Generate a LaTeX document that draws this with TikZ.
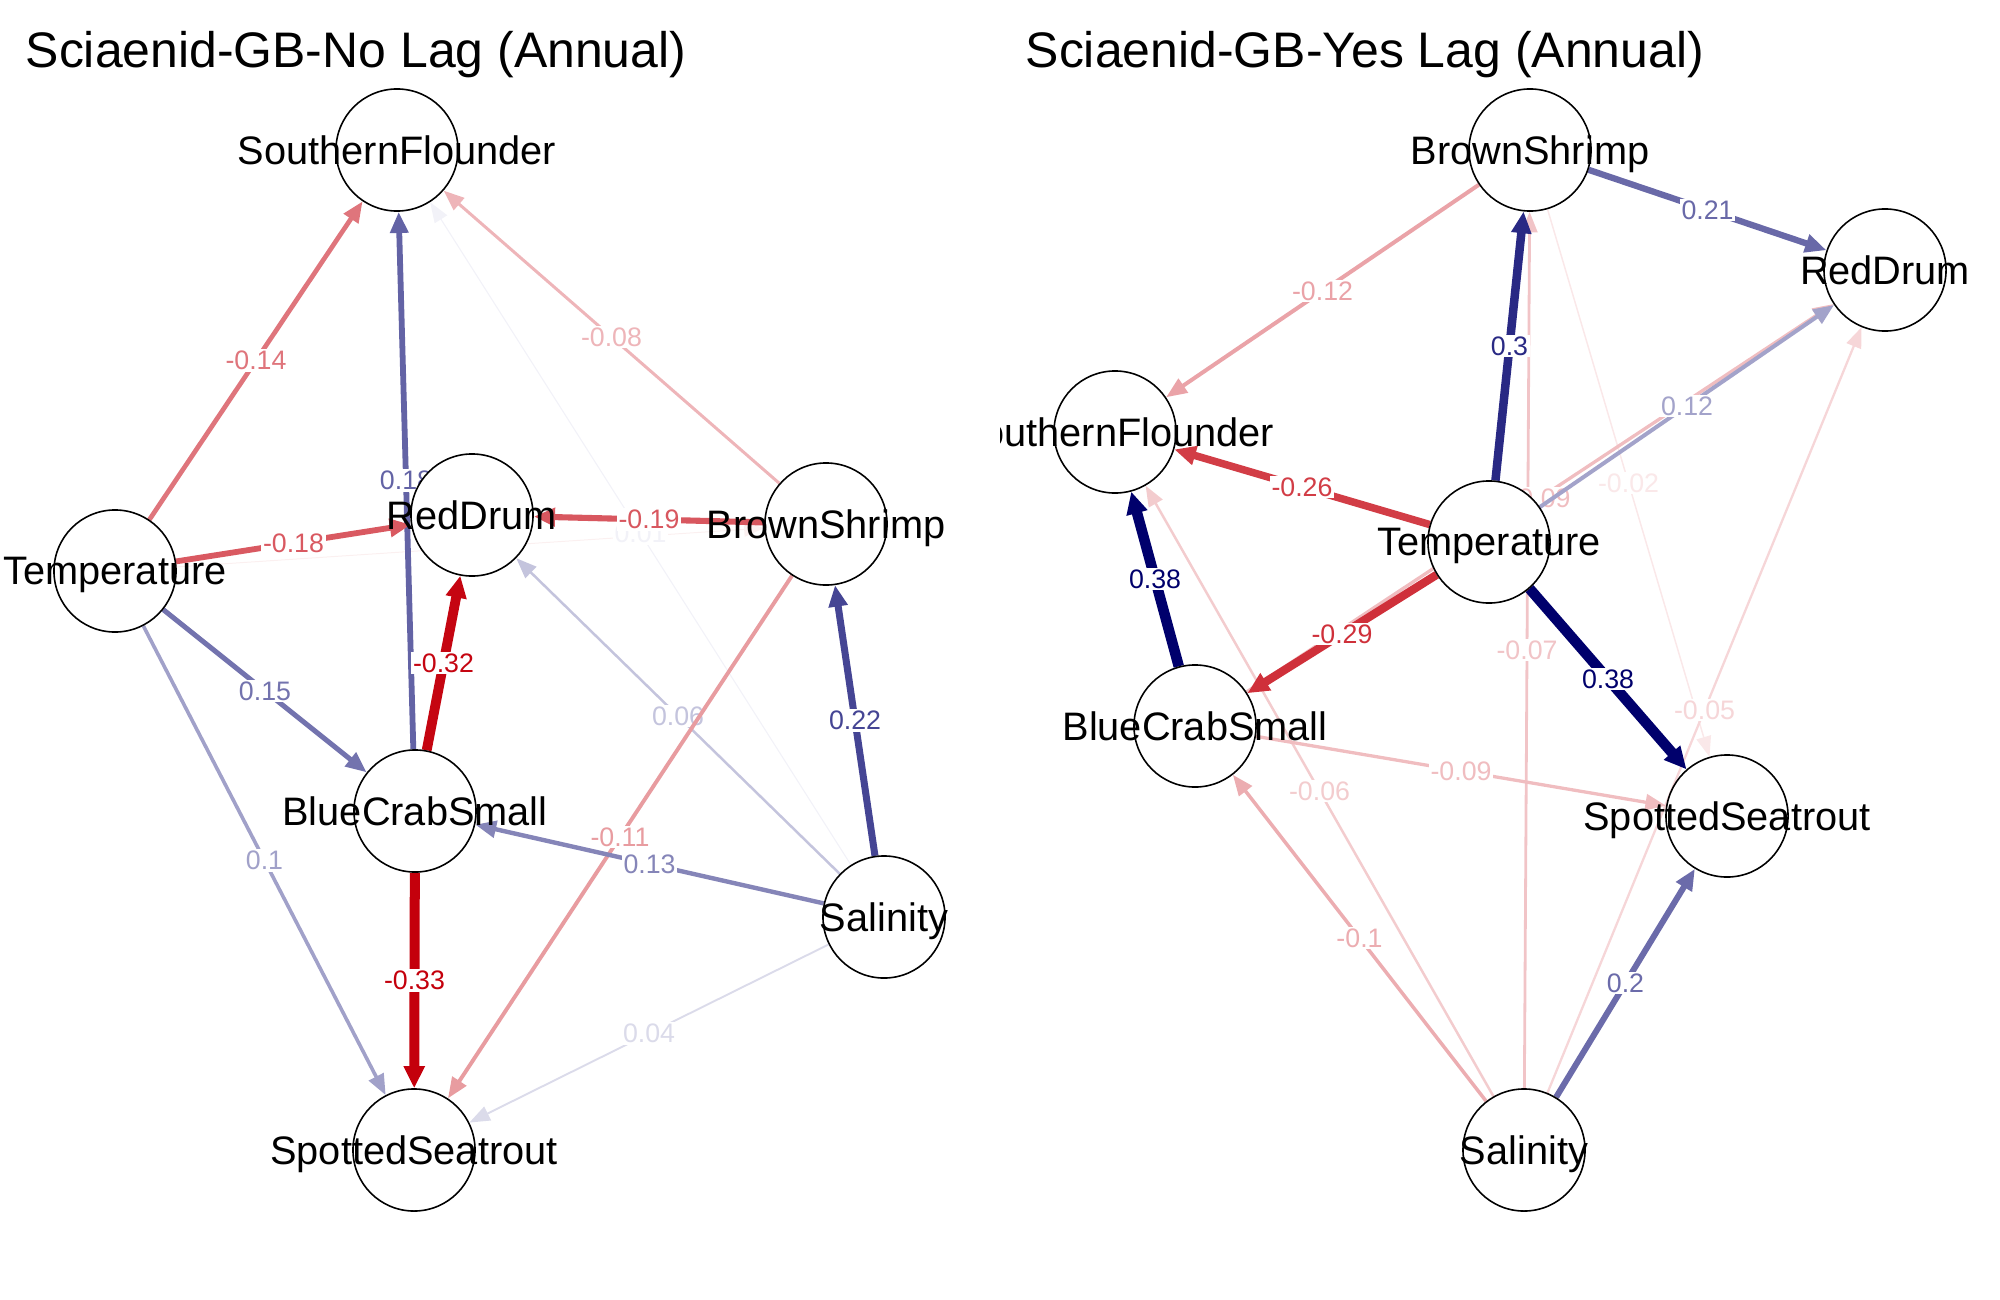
\documentclass[tikz,border=0pt]{standalone}
\usepackage{fontspec}
\setmainfont{Liberation Sans}
\usetikzlibrary{arrows.meta,backgrounds}

\definecolor{posc}{HTML}{00006C}
\definecolor{negc}{HTML}{C4000C}

\tikzset{
  var/.style={circle, draw=black, line width=0.45pt, fill=white, inner sep=0pt,
    minimum size=1.22cm,
    label={[font=\fontsize{11.3}{13}\selectfont, text depth=0pt, inner sep=0pt]center:#1}},
  link/.style={-{Triangle[length=0.2cm 0.2, width=0.14cm 0.6]}},
  lbl/.style={fill=white, inner sep=0.5pt, font=\fontsize{7.6}{9}\selectfont},
  heading/.style={anchor=base west, inner sep=0pt, font=\fontsize{14.2}{17}\selectfont}
}

\begin{document}
\begin{tikzpicture}[x=0.01cm, y=-0.01cm]
  \useasboundingbox (0,0) rectangle (2000,1300);

  % no lag panel
  \node[heading] (ntitle) at (25,68) {Sciaenid-GB-No Lag (Annual)};
  \node[var=SouthernFlounder] (nSF) at (397,150) {};
  \node[var=RedDrum] (nRD) at (472,515) {};
  \node[var=BrownShrimp] (nBS) at (826,524) {};
  \node[var=Temperature] (nT) at (115,571) {};
  \node[var=BlueCrabSmall] (nBCS) at (415,811) {};
  \node[var=Salinity] (nSal) at (884,917) {};
  \node[var=SpottedSeatrout] (nSS) at (414,1150) {};

  \begin{scope}[on background layer]
    \draw[link, color=negc!6!white, line width=0.010cm] (nT) -- (nBS);
    \draw[link, color=posc!5!white, line width=0.011cm] (nSal) -- node[lbl] {0.01} (nSF);
    \draw[link, color=posc!14!white, line width=0.019cm] (nSal) -- node[lbl] {0.04} (nSS);
    \draw[link, color=posc!23!white, line width=0.025cm] (nSal) -- node[lbl] {0.06} (nRD);
    \draw[link, color=negc!29!white, line width=0.030cm] (nBS) -- node[lbl] {-0.08} (nSF);
    \draw[link, color=posc!37!white, line width=0.036cm] (nT) -- node[lbl] {0.1} (nSS);
    \draw[link, color=negc!39!white, line width=0.039cm] (nBS) -- node[lbl] {-0.11} (nSS);
    \draw[link, color=posc!48!white, line width=0.044cm] (nSal) -- node[lbl] {0.13} (nBCS);
    \draw[link, color=negc!54!white, line width=0.047cm] (nT) -- node[lbl] {-0.14} (nSF);
    \draw[link, color=posc!55!white, line width=0.050cm] (nT) -- node[lbl] {0.15} (nBCS);
    \draw[link, color=posc!61!white, line width=0.058cm] (nBCS) -- node[lbl] {0.18} (nSF);
    \draw[link, color=negc!65!white, line width=0.058cm] (nT) -- node[lbl] {-0.18} (nRD);
    \draw[link, color=negc!66!white, line width=0.061cm] (nBS) -- node[lbl] {-0.19} (nRD);
    \draw[link, color=posc!73!white, line width=0.070cm] (nSal) -- node[lbl] {0.22} (nBS);
    \draw[link, color=negc!98!white, line width=0.098cm] (nBCS) -- node[lbl] {-0.32} (nRD);
    \draw[link, color=negc, line width=0.100cm] (nBCS) -- node[lbl] {-0.33} (nSS);
  \end{scope}

  % yes lag panel
  \node[heading] (ytitle) at (1025,68) {Sciaenid-GB-Yes Lag (Annual)};
  \begin{scope}
    \clip (1000,0) rectangle (2000,1300);
    \node[var=BrownShrimp] (yBS) at (1530,150) {};
    \node[var=RedDrum] (yRD) at (1885,270) {};
    \node[var=SouthernFlounder] (ySF) at (1115,432) {};
    \node[var=Temperature] (yT) at (1489,542) {};
    \node[var=BlueCrabSmall] (yBCS) at (1195,726) {};
    \node[var=SpottedSeatrout] (ySS) at (1727,816) {};
    \node[var=Salinity] (ySal) at (1524,1150) {};
  \end{scope}

  \begin{scope}[on background layer]
    \draw[link, color=negc!9!white, line width=0.015cm] (yBS) -- node[lbl] {-0.02} (ySS);
    \draw[link, color=negc!16!white, line width=0.023cm] (ySal) -- node[lbl] {-0.05} (yRD);
    \draw[link, color=negc!20!white, line width=0.025cm] (ySal) -- node[lbl] {-0.06} (ySF);
    \draw[link, color=negc!23!white, line width=0.028cm] (ySal) -- node[lbl] {-0.07} (yBS);
    \draw[link, color=negc!26!white, line width=0.033cm] (yBCS) -- node[lbl] {-0.09} (yRD);
    \draw[link, color=negc!26!white, line width=0.033cm] (yBCS) -- node[lbl] {-0.09} (ySS);
    \draw[link, color=negc!32!white, line width=0.035cm] (ySal) -- node[lbl] {-0.1} (yBCS);
    \draw[link, color=negc!36!white, line width=0.040cm] (yBS) -- node[lbl] {-0.12} (ySF);
    \draw[link, color=posc!36!white, line width=0.040cm] (yT) -- node[lbl] {0.12} (yRD);
    \draw[link, color=posc!58!white, line width=0.060cm] (ySal) -- node[lbl] {0.2} (ySS);
    \draw[link, color=posc!59!white, line width=0.063cm] (yBS) -- node[lbl] {0.21} (yRD);
    \draw[link, color=negc!76!white, line width=0.075cm] (yT) -- node[lbl] {-0.26} (ySF);
    \draw[link, color=negc!81!white, line width=0.083cm] (yT) -- node[lbl] {-0.29} (yBCS);
    \draw[link, color=posc!84!white, line width=0.085cm] (yT) -- node[lbl] {0.3} (yBS);
    \draw[link, color=posc, line width=0.105cm] (yT) -- node[lbl] {0.38} (ySS);
    \draw[link, color=posc, line width=0.105cm] (yBCS) -- node[lbl] {0.38} (ySF);
  \end{scope}
\end{tikzpicture}
\end{document}
